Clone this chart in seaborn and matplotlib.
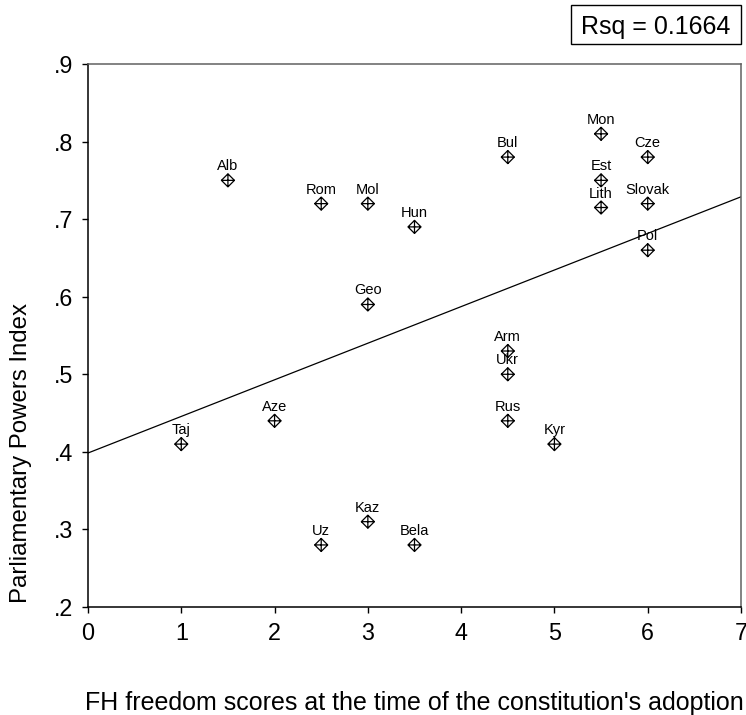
import numpy as np
import pandas as pd
import matplotlib
matplotlib.use("Agg")
import matplotlib.pyplot as plt
from matplotlib.path import Path
from matplotlib.patches import Rectangle
import seaborn as sns

# Countries, Freedom House scores and parliamentary powers
countries = ["Taj", "Alb", "Aze", "Rom", "Uz", "Mol", "Geo", "Kaz", "Hun", "Bela",
             "Bul", "Arm", "Ukr", "Rus", "Kyr", "Mon", "Est", "Lith", "Cze",
             "Slovak", "Pol"]
fh_scores = [1.0, 1.5, 2.0, 2.5, 2.5, 3.0, 3.0, 3.0, 3.5, 3.5,
             4.5, 4.5, 4.5, 4.5, 5.0, 5.5, 5.5, 5.5, 6.0, 6.0, 6.0]
ppi = [0.41, 0.75, 0.44, 0.72, 0.28, 0.72, 0.59, 0.31, 0.69, 0.28,
       0.78, 0.53, 0.50, 0.44, 0.41, 0.81, 0.75, 0.715, 0.78, 0.72, 0.66]

x_ticks = [0, 1, 2, 3, 4, 5, 6, 7]
y_ticks = [0.2, 0.3, 0.4, 0.5, 0.6, 0.7, 0.8, 0.9]
y_tick_labels = [".2", ".3", ".4", ".5", ".6", ".7", ".8", ".9"]
rsq_text = "Rsq = 0.1664"

df = pd.DataFrame({"country": countries, "fh": fh_scores, "ppi": ppi})

sns.set_style("white")
plt.rcParams["font.family"] = ["Liberation Sans", "DejaVu Sans"]
plt.rcParams["text.color"] = "black"
plt.rcParams["axes.labelcolor"] = "black"
plt.rcParams["xtick.color"] = "black"
plt.rcParams["ytick.color"] = "black"

W, H = 746, 715
fig = plt.figure(figsize=(W / 100, H / 100), dpi=100)
ax = fig.add_axes([88 / W, 1 - 607 / H, (741 - 88) / W, (607 - 64) / H])
ax.set_xlim(0, 7)
ax.set_ylim(0.2, 0.9)

# Diamond with an inner cross
verts = [(0, 1), (1, 0), (0, -1), (-1, 0), (0, 1),
         (0, 1), (0, -1), (-1, 0), (1, 0)]
codes = [Path.MOVETO, Path.LINETO, Path.LINETO, Path.LINETO, Path.CLOSEPOLY,
         Path.MOVETO, Path.LINETO, Path.MOVETO, Path.LINETO]
diamond_cross = Path(verts, codes)

sns.regplot(data=df, x="fh", y="ppi", ax=ax, scatter=False, ci=None,
            truncate=False, line_kws={"color": "black", "lw": 0.9})
sns.scatterplot(data=df, x="fh", y="ppi", ax=ax, marker=diamond_cross, s=88,
                facecolor="none", edgecolor="black", linewidth=0.9, zorder=3)

for name, xv, yv in zip(countries, fh_scores, ppi):
    ax.annotate(name, (xv, yv), xytext=(0, 7.2), textcoords="offset points",
                ha="center", va="baseline", fontsize=10.5)

ax.set_xticks(x_ticks)
ax.set_xticklabels([str(t) for t in x_ticks])
ax.set_yticks(y_ticks)
ax.set_yticklabels(y_tick_labels)
ax.tick_params(axis="both", direction="out", length=4.3, width=1, color="black",
               labelsize=16.8, pad=6.5, left=True, bottom=True)

for side in ["left", "bottom"]:
    ax.spines[side].set_color("black")
    ax.spines[side].set_linewidth(1.1)
for side in ["top", "right"]:
    ax.spines[side].set_color("#606060")
    ax.spines[side].set_linewidth(1.1)

ax.set_xlabel("FH freedom scores at the time of the constitution's adoption",
              fontsize=18, labelpad=33)
ax.set_ylabel("Parliamentary Powers Index", fontsize=17.3)
ax.yaxis.set_label_coords(-0.0858, 0.284)

# R-squared box in the top right corner
fig.patches.append(Rectangle((571 / W, 1 - 44 / H), 170 / W, 39 / H,
                             transform=fig.transFigure, facecolor="white",
                             edgecolor="black", linewidth=1))
fig.text(656 / W, 1 - 34 / H, rsq_text, ha="center", va="baseline", fontsize=18)

fig.savefig("out.png", dpi=100)
